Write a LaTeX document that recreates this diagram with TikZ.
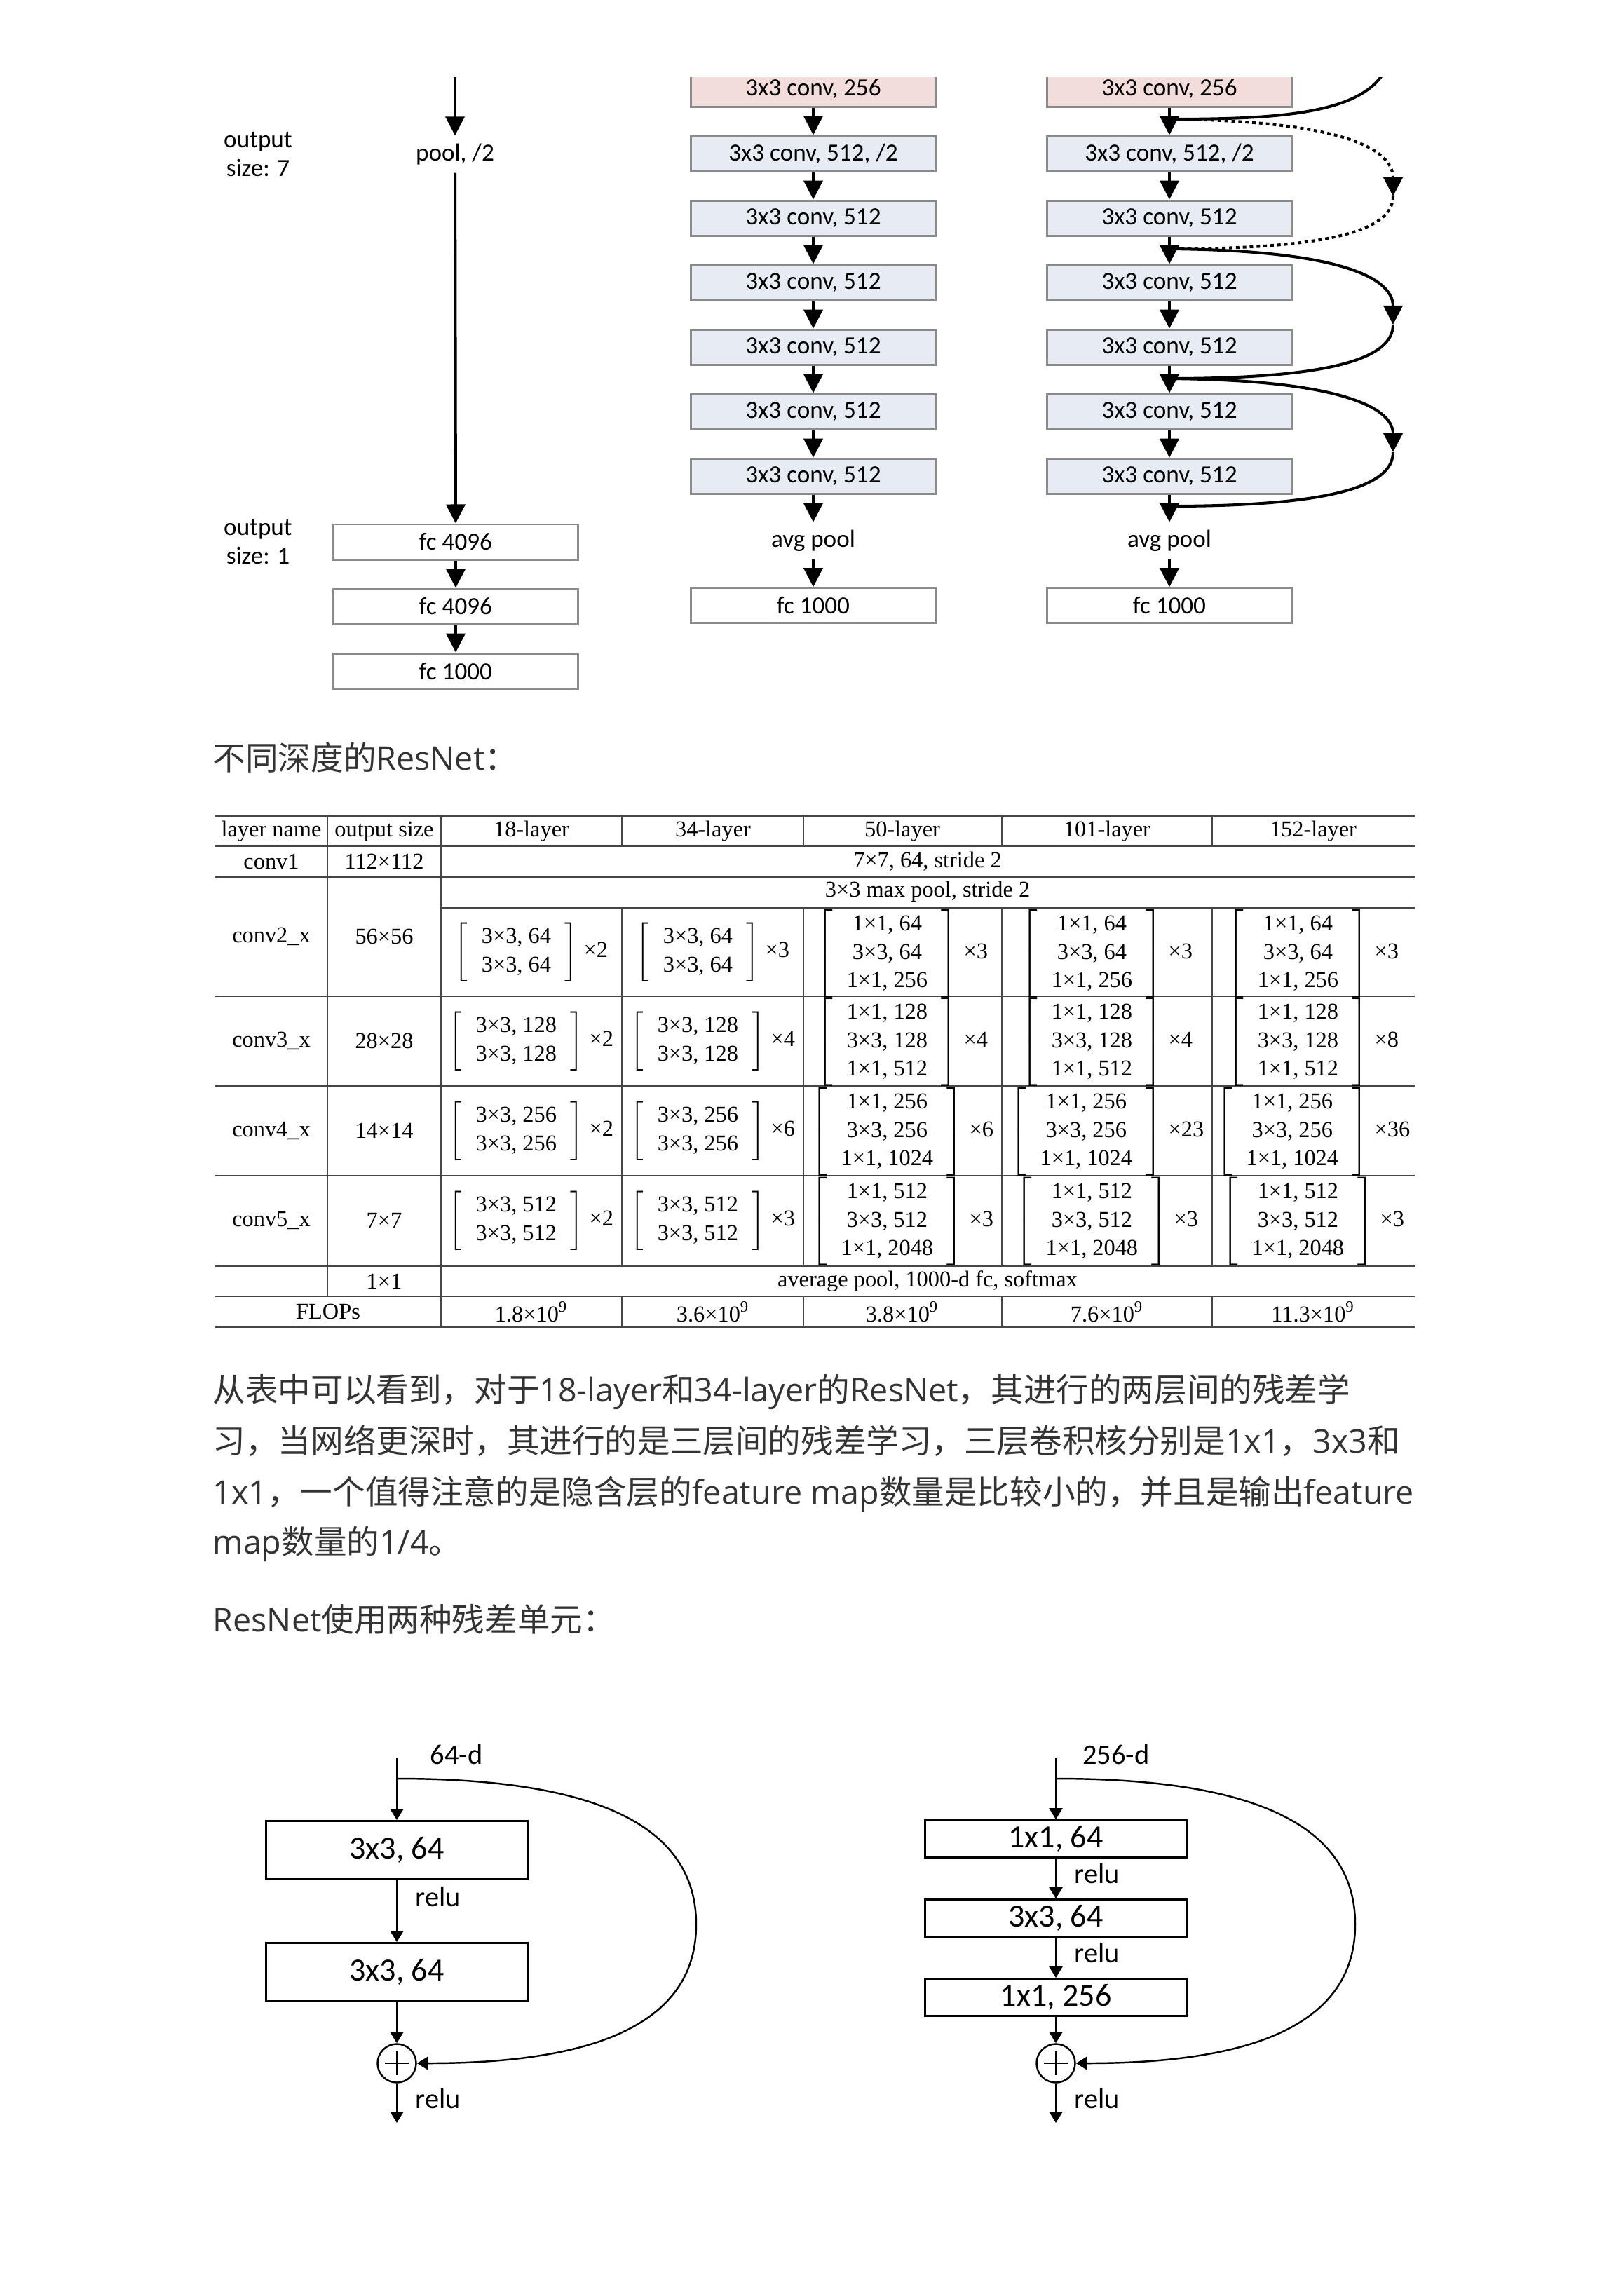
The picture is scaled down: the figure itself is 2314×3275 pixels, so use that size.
\documentclass[tikz,border=0pt]{standalone}
\usepackage{fontspec}
\setmainfont{Liberation Serif}
\newfontfamily\carlito{Carlito}
\newfontfamily\opensans{Open Sans}
\newfontfamily\cjkfont{Noto Sans CJK SC}
\usetikzlibrary{arrows.meta,positioning}
\definecolor{convfill}{RGB}{231,235,243}
\definecolor{pinkfill}{RGB}{242,221,219}
\definecolor{boxline}{RGB}{138,138,138}
\definecolor{ruleline}{RGB}{70,70,70}
\definecolor{bodytext}{RGB}{51,51,51}
\newcommand{\zh}[1]{{\cjkfont #1}}
\newcommand{\blk}[2]{$\left[\begin{tabular}{@{\hspace{5.5pt}}c@{\hspace{5.5pt}}}#1\end{tabular}\right]$\hspace{2.5pt}×#2}

\begin{document}
\begin{tikzpicture}[x=0.01cm,y=-0.01cm,>={Triangle[length=0.27cm,width=0.27cm]},
    convbox/.style={draw=boxline,fill=convfill,line width=0.85pt,minimum width=3.48cm,minimum height=0.50cm,inner sep=0pt,font=\carlito\fontsize{10}{12}\selectfont},
    fcbox/.style={convbox,fill=white},
    pinkbox/.style={convbox,fill=pinkfill},
    lbl/.style={inner sep=0pt,minimum height=0.52cm,font=\carlito\fontsize{10}{11.7}\selectfont},
    flow/.style={->,line width=1.15pt},
    shortcut/.style={line width=1.15pt},
    dotted link/.style={shortcut,dash pattern=on 1.4pt off 1.4pt},
    cell/.style={inner sep=0pt,font=\fontsize{9.2}{11.4}\selectfont},
    hrule/.style={ruleline,line width=0.6pt},
    vrule/.style={ruleline,line width=0.4pt},
    unitbox/.style={draw,line width=0.8pt,minimum width=3.73cm,inner sep=0pt,font=\carlito\fontsize{13.1}{15}\selectfont},
    thin flow/.style={-{Triangle[length=0.16cm,width=0.19cm]},line width=0.7pt},
    tag/.style={inner sep=0pt,font=\carlito\fontsize{11.5}{14}\selectfont},
    bodyline/.style={inner sep=0pt,anchor=base west,text=bodytext,font=\opensans\fontsize{13.25}{16}\selectfont}]
\useasboundingbox (0,0) rectangle (2314,3275);

\begin{scope}
\clip (0,110) rectangle (2314,1010);
\coordinate (lTop) at (649,90);
\node [lbl] (lPool) at (649,220) {pool, /2};
\node [lbl,align=center] (out7) at (368,220) {output\\size: 7};
\node [lbl,align=center] (out1) at (368,773) {output\\size: 1};
\node [fcbox,minimum width=3.49cm] (lFc1) at (650,773) {fc 4096};
\node [fcbox,minimum width=3.49cm,below=0.39cm of lFc1] (lFc2) {fc 4096};
\node [fcbox,minimum width=3.49cm,below=0.39cm of lFc2] (lFc3) {fc 1000};
\draw [flow] (lTop) -- (lPool);
\draw [flow] (lPool) -- (lFc1);
\draw [flow] (lFc1) -- (lFc2);
\draw [flow] (lFc2) -- (lFc3);

\node [pinkbox] (m0) at (1160,127) {3x3 conv, 256};
\node [convbox,below=0.39cm of m0] (m1) {3x3 conv, 512, /2};
\node [convbox,below=0.39cm of m1] (m2) {3x3 conv, 512};
\node [convbox,below=0.39cm of m2] (m3) {3x3 conv, 512};
\node [convbox,below=0.39cm of m3] (m4) {3x3 conv, 512};
\node [convbox,below=0.39cm of m4] (m5) {3x3 conv, 512};
\node [convbox,below=0.39cm of m5] (m6) {3x3 conv, 512};
\node [lbl,below=0.39cm of m6] (mPool) {avg pool};
\node [fcbox,below=0.39cm of mPool] (mFc) {fc 1000};
\draw [flow] (m0) -- (m1);
\draw [flow] (m1) -- (m2);
\draw [flow] (m2) -- (m3);
\draw [flow] (m3) -- (m4);
\draw [flow] (m4) -- (m5);
\draw [flow] (m5) -- (m6);
\draw [flow] (m6) -- (mPool);
\draw [flow] (mPool) -- (mFc);

\node [pinkbox] (r0) at (1668,127) {3x3 conv, 256};
\node [convbox,below=0.39cm of r0] (r1) {3x3 conv, 512, /2};
\node [convbox,below=0.39cm of r1] (r2) {3x3 conv, 512};
\node [convbox,below=0.39cm of r2] (r3) {3x3 conv, 512};
\node [convbox,below=0.39cm of r3] (r4) {3x3 conv, 512};
\node [convbox,below=0.39cm of r4] (r5) {3x3 conv, 512};
\node [convbox,below=0.39cm of r5] (r6) {3x3 conv, 512};
\node [lbl,below=0.39cm of r6] (rPool) {avg pool};
\node [fcbox,below=0.39cm of rPool] (rFc) {fc 1000};
\draw [flow] (r0) -- (r1);
\draw [flow] (r1) -- (r2);
\draw [flow] (r2) -- (r3);
\draw [flow] (r3) -- (r4);
\draw [flow] (r4) -- (r5);
\draw [flow] (r5) -- (r6);
\draw [flow] (r6) -- (rPool);
\draw [flow] (rPool) -- (rFc);

\coordinate (sIn) at (1985,60);
\coordinate (j0) at (1668,170);
\coordinate (j1) at (1668,355);
\coordinate (j2) at (1668,540);
\coordinate (j3) at (1668,722);
\coordinate (tipA) at (1987,280);
\coordinate (tipB) at (1987,463);
\coordinate (tipC) at (1987,645);
\draw [shortcut] (sIn) .. controls (1985,160) and (1850,170) .. (j0);
\draw [dotted link,->] (j0) .. controls (1900,172) and (1987,208) .. (tipA);
\draw [dotted link] (tipA) .. controls (1987,328) and (1900,355) .. (j1);
\draw [shortcut,->] (j1) .. controls (1900,357) and (1987,393) .. (tipB);
\draw [shortcut] (tipB) .. controls (1987,511) and (1900,540) .. (j2);
\draw [shortcut,->] (j2) .. controls (1900,542) and (1987,578) .. (tipC);
\draw [shortcut] (tipC) .. controls (1987,693) and (1900,722) .. (j3);
\end{scope}

\node [bodyline] (t0) at (303,1098) {\zh{不同深度的}ResNet\zh{：}};

\draw [hrule] (307,1164) -- (2018,1164);
\draw [hrule] (307,1207) -- (2018,1207);
\draw [hrule] (307,1251) -- (2018,1251);
\draw [vrule] (629,1295) -- (2018,1295);
\draw [hrule] (307,1421) -- (2018,1421);
\draw [hrule] (307,1549) -- (2018,1549);
\draw [hrule] (307,1677) -- (2018,1677);
\draw [hrule] (307,1806) -- (2018,1806);
\draw [hrule] (307,1849) -- (2018,1849);
\draw [hrule] (307,1893) -- (2018,1893);
\draw [vrule] (467,1164) -- (467,1849);
\draw [vrule] (629,1164) -- (629,1893);
\foreach \cx in {887,1146,1429,1729} {
  \draw [vrule] (\cx,1164) -- (\cx,1207);
  \draw [vrule] (\cx,1295) -- (\cx,1806);
  \draw [vrule] (\cx,1849) -- (\cx,1893);
}

\node [cell] (hName) at (387,1186) {layer name};
\node [cell] (hSize) at (548,1186) {output size};
\node [cell] (h18) at (758,1186) {18-layer};
\node [cell] (h34) at (1017,1186) {34-layer};
\node [cell] (h50) at (1287,1186) {50-layer};
\node [cell] (h101) at (1579,1186) {101-layer};
\node [cell] (h152) at (1873,1186) {152-layer};

\node [cell] (c1Name) at (387,1229) {conv1};
\node [cell] (c1Size) at (548,1229) {112×112};
\node [cell] (c1All) at (1323,1229) {7×7, 64, stride 2};

\node [cell] (c2Name) at (387,1336) {conv2\_x};
\node [cell] (c2Size) at (548,1336) {56×56};
\node [cell] (c2Pool) at (1323,1272) {3×3 max pool, stride 2};
\node [cell] (c2a) at (758,1358) {\blk{3×3, 64\\3×3, 64}{2}};
\node [cell] (c2b) at (1017,1358) {\blk{3×3, 64\\3×3, 64}{3}};
\node [cell] (c2c) at (1287,1360) {\blk{1×1, 64\\3×3, 64\\1×1, 256}{3}};
\node [cell] (c2d) at (1579,1360) {\blk{1×1, 64\\3×3, 64\\1×1, 256}{3}};
\node [cell] (c2e) at (1873,1360) {\blk{1×1, 64\\3×3, 64\\1×1, 256}{3}};

\node [cell] (c3Name) at (387,1485) {conv3\_x};
\node [cell] (c3Size) at (548,1485) {28×28};
\node [cell] (c3a) at (758,1485) {\blk{3×3, 128\\3×3, 128}{2}};
\node [cell] (c3b) at (1017,1485) {\blk{3×3, 128\\3×3, 128}{4}};
\node [cell] (c3c) at (1287,1486) {\blk{1×1, 128\\3×3, 128\\1×1, 512}{4}};
\node [cell] (c3d) at (1579,1486) {\blk{1×1, 128\\3×3, 128\\1×1, 512}{4}};
\node [cell] (c3e) at (1873,1486) {\blk{1×1, 128\\3×3, 128\\1×1, 512}{8}};

\node [cell] (c4Name) at (387,1613) {conv4\_x};
\node [cell] (c4Size) at (548,1613) {14×14};
\node [cell] (c4a) at (758,1613) {\blk{3×3, 256\\3×3, 256}{2}};
\node [cell] (c4b) at (1017,1613) {\blk{3×3, 256\\3×3, 256}{6}};
\node [cell] (c4c) at (1287,1614) {\blk{1×1, 256\\3×3, 256\\1×1, 1024}{6}};
\node [cell] (c4d) at (1579,1614) {\blk{1×1, 256\\3×3, 256\\1×1, 1024}{23}};
\node [cell] (c4e) at (1873,1614) {\blk{1×1, 256\\3×3, 256\\1×1, 1024}{36}};

\node [cell] (c5Name) at (387,1741) {conv5\_x};
\node [cell] (c5Size) at (548,1741) {7×7};
\node [cell] (c5a) at (758,1741) {\blk{3×3, 512\\3×3, 512}{2}};
\node [cell] (c5b) at (1017,1741) {\blk{3×3, 512\\3×3, 512}{3}};
\node [cell] (c5c) at (1287,1742) {\blk{1×1, 512\\3×3, 512\\1×1, 2048}{3}};
\node [cell] (c5d) at (1579,1742) {\blk{1×1, 512\\3×3, 512\\1×1, 2048}{3}};
\node [cell] (c5e) at (1873,1742) {\blk{1×1, 512\\3×3, 512\\1×1, 2048}{3}};

\node [cell] (avSize) at (548,1828) {1×1};
\node [cell] (avAll) at (1323,1828) {average pool, 1000-d fc, softmax};

\node [cell] (flName) at (468,1871) {FLOPs};
\node [cell] (fl18) at (758,1871) {1.8×10\textsuperscript{9}};
\node [cell] (fl34) at (1017,1871) {3.6×10\textsuperscript{9}};
\node [cell] (fl50) at (1287,1871) {3.8×10\textsuperscript{9}};
\node [cell] (fl101) at (1579,1871) {7.6×10\textsuperscript{9}};
\node [cell] (fl152) at (1873,1871) {11.3×10\textsuperscript{9}};

\node [bodyline] (p1) at (303,1999) {\zh{从表中可以看到，对于}18-layer\zh{和}34-layer\zh{的}ResNet\zh{，其进行的两层间的残差学}};
\node [bodyline] (p2) at (303,2072) {\zh{习，当网络更深时，其进行的是三层间的残差学习，三层卷积核分别是}1x1\zh{，}3x3\zh{和}};
\node [bodyline] (p3) at (303,2145) {1x1\zh{，一个值得注意的是隐含层的}feature map\zh{数量是比较小的，并且是输出}feature};
\node [bodyline] (p4) at (303,2216) {map\zh{数量的}1/4\zh{。}};
\node [bodyline] (t1) at (303,2327) {ResNet\zh{使用两种残差单元：}};

\coordinate (inL) at (566,2507);
\coordinate (brL) at (566,2537);
\coordinate (outL) at (566,3028);
\node [tag] (dL) at (651,2503) {64-d};
\node [unitbox,minimum height=0.83cm] (aL) at (566,2639) {3x3, 64};
\node [unitbox,minimum height=0.83cm] (bL) at (566,2813) {3x3, 64};
\node [draw,circle,line width=0.7pt,minimum size=0.55cm,inner sep=0pt] (sL) at (566,2943) {};
\node [tag,anchor=west] (rl1L) at (592,2706) {relu};
\node [tag,anchor=west] (rl2L) at (592,2994) {relu};
\draw [line width=0.7pt] (sL.center) ++(-17,0) -- ++(34,0);
\draw [line width=0.7pt] (sL.center) ++(0,-17) -- ++(0,34);
\draw [thin flow] (inL) -- (aL);
\draw [thin flow] (aL) -- (bL);
\draw [thin flow] (bL) -- (sL);
\draw [thin flow] (sL) -- (outL);
\draw [thin flow] (brL) .. controls (820,2537) and (993,2590) .. (993,2745) .. controls (993,2900) and (820,2943) .. (sL.east);

\coordinate (inR) at (1506,2507);
\coordinate (brR) at (1506,2537);
\coordinate (outR) at (1506,3028);
\node [tag] (dR) at (1592,2503) {256-d};
\node [unitbox,minimum height=0.53cm] (aR) at (1506,2623) {1x1, 64};
\node [unitbox,minimum height=0.53cm] (bR) at (1506,2736) {3x3, 64};
\node [unitbox,minimum height=0.53cm] (cR) at (1506,2849) {1x1, 256};
\node [draw,circle,line width=0.7pt,minimum size=0.55cm,inner sep=0pt] (sR) at (1506,2943) {};
\node [tag,anchor=west] (rl1R) at (1532,2673) {relu};
\node [tag,anchor=west] (rl2R) at (1532,2786) {relu};
\node [tag,anchor=west] (rl3R) at (1532,2994) {relu};
\draw [line width=0.7pt] (sR.center) ++(-17,0) -- ++(34,0);
\draw [line width=0.7pt] (sR.center) ++(0,-17) -- ++(0,34);
\draw [thin flow] (inR) -- (aR);
\draw [thin flow] (aR) -- (bR);
\draw [thin flow] (bR) -- (cR);
\draw [thin flow] (cR) -- (sR);
\draw [thin flow] (sR) -- (outR);
\draw [thin flow] (brR) .. controls (1760,2537) and (1933,2590) .. (1933,2745) .. controls (1933,2900) and (1760,2943) .. (sR.east);
\end{tikzpicture}
\end{document}
